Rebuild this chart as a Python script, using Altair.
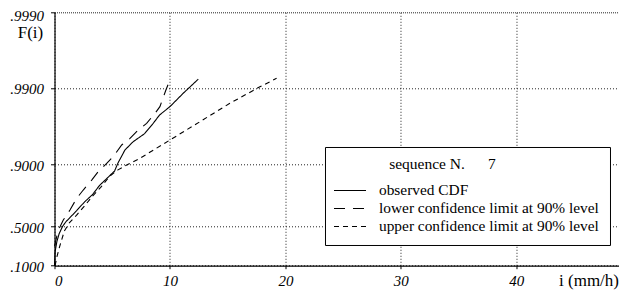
import math
import altair as alt
import pandas as pd

# ---- data (i in mm/h, F = non-exceedance probability) ----
obs_i = [0.0, 0.05, 0.2, 0.4, 0.7, 1.0, 1.35, 1.9, 2.6, 3.3, 3.9, 4.6, 5.2, 5.5, 6.1, 6.8, 7.8, 8.55, 9.1, 10.0, 11.15, 12.45]
obs_F = [0.100, 0.22, 0.33, 0.42, 0.50, 0.55, 0.59, 0.65, 0.72, 0.77, 0.82, 0.855, 0.880, 0.905, 0.935, 0.949, 0.960, 0.9707, 0.9772, 0.9823, 0.9882, 0.9923]

low_i = [0.0, 0.3, 0.76, 1.34, 1.92, 2.49, 3.22, 3.79, 4.52, 5.09, 5.82, 6.54, 7.26, 7.98, 8.70, 9.13, 9.65, 10.0]
low_F = [0.28, 0.45, 0.565, 0.657, 0.745, 0.796, 0.845, 0.878, 0.904, 0.921, 0.944, 0.954, 0.9642, 0.9707, 0.9783, 0.9823, 0.9893, 0.9921]

up_i = [0.05, 0.2, 0.45, 0.85, 1.3, 1.9, 2.6, 3.3, 4.0, 4.8, 5.5, 6.25, 7.4, 10.0, 12.6, 15.19, 17.79, 19.24]
up_F = [0.10, 0.17, 0.28, 0.45, 0.54, 0.61, 0.69, 0.76, 0.81, 0.862, 0.884, 0.899, 0.917, 0.9517, 0.9721, 0.9840, 0.9903, 0.9925]

series_names = [
    "observed CDF",
    "lower confidence limit at 90% level",
    "upper confidence limit at 90% level",
]
y_tick_labels = [".1000", ".5000", ".9000", ".9900", ".9990"]
x_ticks = [0, 10, 20, 30, 40]
x_max = 48.9
legend_title = "\u200b" + "\u00a0" * 14 + "sequence N." + "\u00a0" * 6 + "7"

FONT = "'Liberation Serif', 'Times New Roman', Times, serif"


def gumbel(p):
    return -math.log(-math.log(p))


rows = []
for name, xs, fs in zip(series_names, [obs_i, low_i, up_i], [obs_F, low_F, up_F]):
    for k, (a, b) in enumerate(zip(xs, fs)):
        rows.append({"series": name, "i": a, "F": b, "order": k})
df = pd.DataFrame(rows)

y_vals = [gumbel(float(s)) for s in y_tick_labels]
expr = "''"
for s, v in zip(y_tick_labels, y_vals):
    expr = f"abs(datum.value - ({v:.6f})) < 0.01 ? '{s}' : " + expr

W, H = 564.5, 253.4

chart = alt.Chart(df).transform_calculate(
    v="-log(-log(datum.F))"
).mark_line(color="black", strokeWidth=1.1).encode(
    x=alt.X(
        "i:Q",
        scale=alt.Scale(domain=[0, x_max], nice=False, zero=False),
        axis=alt.Axis(
            values=x_ticks, format="d",
            labelFont=FONT, labelFontStyle="italic", labelFontSize=15, labelColor="black",
            labelPadding=5, tickColor="black", tickSize=3, tickWidth=1,
            domainColor="black", domainWidth=1.2,
            grid=True, gridDash=[1, 2], gridColor="#222", gridWidth=1,
            title="i (mm/h)", titleFont=FONT, titleFontWeight="normal", titleFontSize=17,
            titleColor="black", titleAnchor="start", titleAlign="right",
            titleBaseline="alphabetic", titleX=564, titleY=19.5,
        ),
    ),
    y=alt.Y(
        "v:Q",
        scale=alt.Scale(domain=[y_vals[0], y_vals[-1]], nice=False, zero=False),
        axis=alt.Axis(
            values=y_vals, labelExpr=expr,
            labelFont=FONT, labelFontStyle="italic", labelFontSize=15, labelColor="black",
            labelPadding=7,
            labelOffset={"condition": {"test": "datum.value > 6", "value": 3}, "value": 1},
            tickColor="black", tickSize=4, tickWidth=1,
            domainColor="black", domainWidth=1.2,
            grid=True,
            gridDash={"condition": {"test": "datum.value > 6", "value": [1, 1]}, "value": [1, 2]},
            gridColor="#222", gridWidth=1,
            title="F(i)", titleFont=FONT, titleFontWeight="normal", titleFontSize=17,
            titleColor="black", titleAngle=0, titleAlign="right", titleAnchor="start",
            titleBaseline="alphabetic", titleX=-11.8, titleY=25,
        ),
    ),
    strokeDash=alt.StrokeDash(
        "series:N",
        scale=alt.Scale(domain=series_names, range=[[1, 0], [11, 8], [5, 4]]),
        legend=alt.Legend(
            title=legend_title, orient="none", legendX=270.5, legendY=134.7,
            strokeColor="black", fillColor="white", padding=10, cornerRadius=0,
            titleFont=FONT, titleFontSize=15.5, titleFontWeight="normal", titleColor="black",
            titleAlign="left", titlePadding=9,
            labelFont=FONT, labelFontSize=15.4, labelColor="black", labelOffset=20,
            labelLimit=400,
            symbolType="M-2,0H2", symbolSize=256, symbolStrokeWidth=1.2,
            symbolStrokeColor="black", symbolOffset=6, rowPadding=0,
        ),
    ),
    order="order:Q",
).properties(
    width=W, height=H,
    autosize=alt.AutoSizeParams(type="none"),
    padding={"left": 46.5, "top": 4.3, "right": 0, "bottom": 24},
    background="white",
).configure_view(stroke=None)

chart.save("out.html", embed_options={"renderer": "svg", "actions": False})
